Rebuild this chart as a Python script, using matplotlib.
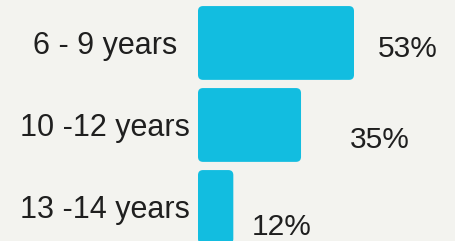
import matplotlib
matplotlib.use('Agg')
import matplotlib.pyplot as plt
from matplotlib.patches import FancyBboxPatch

# Data
age_groups = ['6 - 9 years', '10 -12 years', '13 -14 years']
shares = [53, 35, 12]
share_labels = ['53%', '35%', '12%']

plt.rcParams['font.family'] = ['Liberation Sans', 'DejaVu Sans']

bar_color = '#12BDE0'
text_color = '#1f1f1f'
bg = '#f3f3ef'

fig = plt.figure(figsize=(4.55, 2.41), dpi=100, facecolor=bg)
# axes starts where the bars start
ax = fig.add_axes([198 / 455, 0, 1 - 198 / 455, 1])
ax.set_facecolor(bg)

y = list(range(len(age_groups)))
bars = ax.barh(y, shares, height=0.9, color=bar_color)

# x scale: 53 units ~ 156 px
ux = 53 / 156
ax.set_xlim(0, (455 - 198) * ux)
ax.set_ylim(2.415, -0.524)
uy = (2.415 + 0.524) / 241

# swap plain bars for rounded ones
for b in bars:
    x0, y0 = b.get_x(), b.get_y()
    w, h = b.get_width(), b.get_height()
    b.set_visible(False)
    r = 5 * ux
    ax.add_patch(FancyBboxPatch((x0, y0), w, h,
                                boxstyle=f'round,pad=0,rounding_size={r}',
                                mutation_aspect=uy / ux,
                                facecolor=bar_color, edgecolor='none'))

# value labels, set right of bar end and a bit low
dy = [0.17, 0.28, 0.34]
dx = [8.2, 16.6, 6.3]
for i, (v, lab) in enumerate(zip(shares, share_labels)):
    ax.text(v + dx[i], i + dy[i], lab, fontsize=21.5, color=text_color,
            ha='left', va='baseline')

ax.set_yticks(y)
ax.set_yticklabels(age_groups, fontsize=22, color=text_color, ha='center')
ax.tick_params(axis='y', length=0, pad=67)
ax.set_xticks([])
for s in ax.spines.values():
    s.set_visible(False)

fig.savefig('out.png', dpi=100, facecolor=bg)
